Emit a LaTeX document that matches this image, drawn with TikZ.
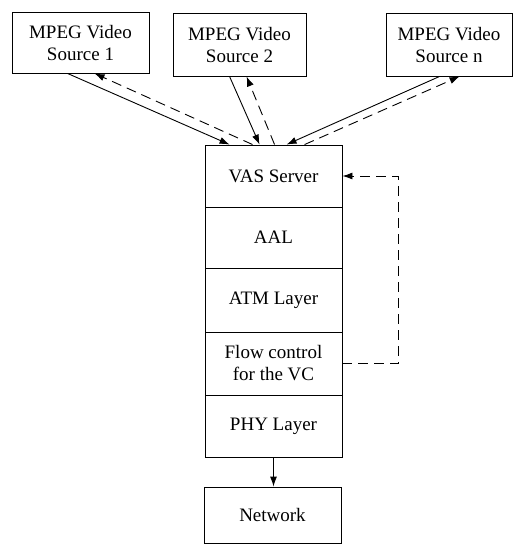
\documentclass[tikz,border=0pt]{standalone}
\usepackage{fontspec}
\setmainfont{Liberation Serif}
\usetikzlibrary{arrows.meta,calc}
\begin{document}
\begin{tikzpicture}[x=1pt,y=-1pt,
  box/.style={draw,line width=0.9pt,align=center,inner sep=0pt,font=\fontsize{19}{22}\selectfont},
  conn/.style={line width=0.9pt,-{Latex[length=10pt,width=7pt]}},
  dconn/.style={conn,dash pattern=on 10pt off 6pt}]
\useasboundingbox (0,0) rectangle (514,544);
\node[box,minimum width=137pt,minimum height=61pt] (s1) at (80.5,42.5) {MPEG Video\\Source 1};
\node[box,minimum width=133pt,minimum height=63pt] (s2) at (239.5,44.5) {MPEG Video\\Source 2};
\node[box,minimum width=126pt,minimum height=63pt] (sn) at (449,44.5) {MPEG Video\\Source n};
\node[box,minimum width=137pt,minimum height=62pt] (vas) at (273.5,176) {VAS Server};
\node[box,minimum width=137pt,minimum height=61pt] (aal) at (273.5,237.5) {AAL};
\node[box,minimum width=137pt,minimum height=64pt] (atm) at (273.5,300) {ATM Layer};
\node[box,minimum width=137pt,minimum height=63pt] (flow) at (273.5,363.5) {Flow control\\for the VC};
\node[box,minimum width=137pt,minimum height=62pt] (phy) at (273.5,426) {PHY Layer};
\node[box,minimum width=137pt,minimum height=56pt] (net) at (272.5,515) {Network};
% source 1
\draw[conn] ([xshift=56pt]s1.south west) -- ([xshift=25pt]vas.north west);
\draw[dconn] ([xshift=48pt]vas.north west) -- ([xshift=83pt]s1.south west);
% source 2
\draw[conn] ([xshift=57pt]s2.south west) -- ([xshift=55pt]vas.north west);
\draw[dconn] ([xshift=70pt]vas.north west) -- ([xshift=74pt]s2.south west);
% source n
\draw[conn] ([xshift=54pt]sn.south west) -- ([xshift=82pt]vas.north west);
\draw[dconn] ([xshift=100pt]vas.north west) -- ([xshift=74pt]sn.south west);
% feedback
\draw[dconn] (flow.east) -- ++(56,0) |- (vas.east);
% to network
\draw[conn] (phy.south) -- (phy.south |- net.north);
\end{tikzpicture}
\end{document}
